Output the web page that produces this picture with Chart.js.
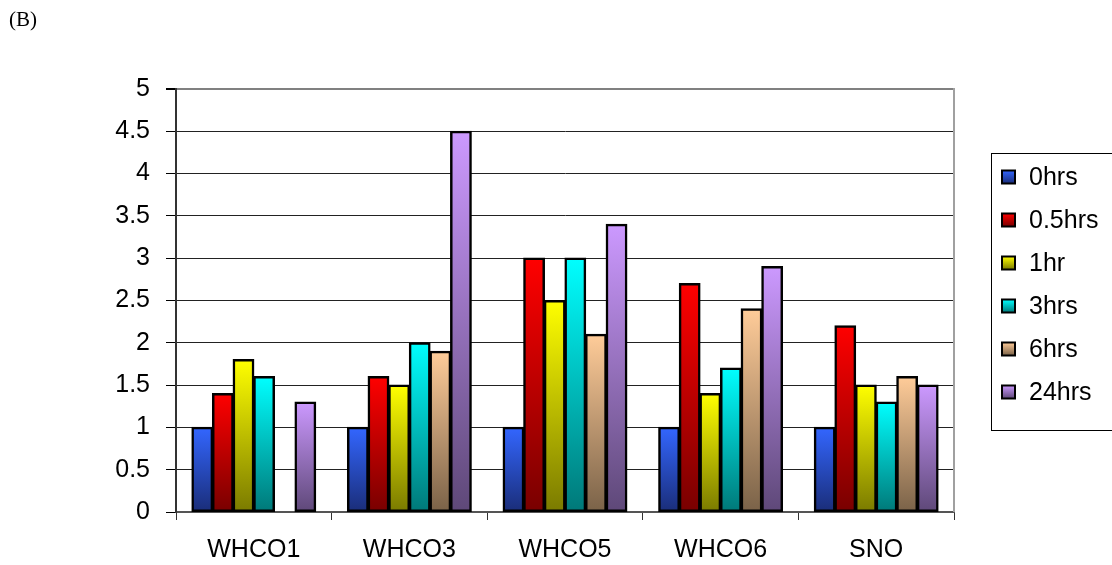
<!DOCTYPE html>
<html>
<head>
  <meta charset="utf-8">
  <title>Grafik (B)</title>
  <script src="https://cdn.jsdelivr.net/npm/chart.js"></script>
  <style>
    * { margin: 0; padding: 0; box-sizing: border-box; }
    html, body { width: 1112px; height: 565px; background: #fff; overflow: hidden; }
    #wrap { position: relative; width: 1112px; height: 565px; }
    #panel {
      position: absolute; left: 9px; top: 7px;
      font-family: "Liberation Serif", serif; font-size: 21px; color: #000;
    }
  </style>
</head>
<body>
  <div id="wrap">
    <div id="panel">(B)</div>
    <canvas id="grafik"></canvas>
  </div>
  <script>
    // === data ===
    const categories = ["WHCO1", "WHCO3", "WHCO5", "WHCO6", "SNO"];
    const seriesNames = ["0hrs", "0.5hrs", "1hr", "3hrs", "6hrs", "24hrs"];
    const hrs0   = [1, 1, 1, 1, 1];
    const hrs05  = [1.4, 1.6, 3.0, 2.7, 2.2];
    const hr1    = [1.8, 1.5, 2.5, 1.4, 1.5];
    const hrs3   = [1.6, 2.0, 3.0, 1.7, 1.3];
    const hrs6   = [null, 1.9, 2.1, 2.4, 1.6];
    const hrs24  = [1.3, 4.5, 3.4, 2.9, 1.5];
    const yTicks = [0, 0.5, 1, 1.5, 2, 2.5, 3, 3.5, 4, 4.5, 5];

    const seriesValues = [hrs0, hrs05, hr1, hrs3, hrs6, hrs24];

    // warna gradasi: atas terang, bawah gelap
    const shades = [
      ["#3366ff", "#1a2d78"],
      ["#ff0000", "#780000"],
      ["#ffff00", "#7a7a00"],
      ["#00ffff", "#007878"],
      ["#ffcc99", "#7a6248"],
      ["#cc99ff", "#5e4878"]
    ];

    const FONT = "'Liberation Sans', Arial, sans-serif";

    function gradasi(top, bottom) {
      return (ctx) => {
        const chart = ctx.chart;
        if (!chart.chartArea || ctx.type !== 'data' || ctx.raw == null) return top;
        const y = chart.scales.y;
        const y0 = y.getPixelForValue(ctx.raw);
        const y1 = y.getPixelForValue(0);
        if (!isFinite(y0) || !isFinite(y1) || y0 === y1) return top;
        const g = chart.ctx.createLinearGradient(0, y0, 0, y1);
        g.addColorStop(0, top);
        g.addColorStop(1, bottom);
        return g;
      };
    }

    // garis kanan area plot
    const bingkai = {
      id: 'bingkai',
      afterDatasetsDraw(chart) {
        const { ctx, chartArea } = chart;
        ctx.save();
        ctx.strokeStyle = '#a0a0a0';
        ctx.lineWidth = 2;
        ctx.beginPath();
        ctx.moveTo(chartArea.right, chartArea.top - 1);
        ctx.lineTo(chartArea.right, chartArea.bottom);
        ctx.stroke();
        ctx.restore();
      }
    };

    // legenda kotak di kanan
    const legenda = {
      id: 'legenda',
      afterDraw(chart) {
        const ctx = chart.ctx;
        const x0 = 991, y0 = 153, w = 140, h = 277;
        ctx.save();
        ctx.strokeStyle = '#000';
        ctx.lineWidth = 1;
        ctx.strokeRect(x0 + 0.5, y0 + 0.5, w, h);
        ctx.font = '25px ' + FONT;
        ctx.textBaseline = 'middle';
        chart.data.datasets.forEach((ds, i) => {
          const cy = 177 + i * 43;
          const s = 13;
          const g = ctx.createLinearGradient(0, cy - s / 2, 0, cy + s / 2);
          g.addColorStop(0, shades[i][0]);
          g.addColorStop(1, shades[i][1]);
          ctx.fillStyle = g;
          ctx.fillRect(1002, cy - s / 2, s, s);
          ctx.lineWidth = 2;
          ctx.strokeStyle = '#000';
          ctx.strokeRect(1002, cy - s / 2, s, s);
          ctx.fillStyle = '#000';
          ctx.fillText(ds.label, 1029, cy + 1);
        });
        ctx.restore();
      }
    };

    const datasets = seriesNames.map((name, i) => ({
      label: name,
      data: seriesValues[i],
      backgroundColor: gradasi(shades[i][0], shades[i][1]),
      borderColor: '#000',
      borderWidth: 2.5,
      borderSkipped: false,
      inflateAmount: 0.6,
      barPercentage: 1.0,
      categoryPercentage: 0.795
    }));

    new Chart(document.getElementById('grafik'), {
      type: 'bar',
      data: { labels: categories, datasets: datasets },
      plugins: [bingkai, legenda],
      options: {
        responsive: true,
        maintainAspectRatio: false,
        animation: false,
        layout: { padding: { left: 0, right: 158, top: 89, bottom: 0 } },
        plugins: {
          legend: { display: false },
          tooltip: { enabled: false }
        },
        scales: {
          x: {
            afterFit(scale) { scale.height = 53; },
            grid: {
              offset: true,
              drawOnChartArea: false,
              drawTicks: true,
              tickLength: 8,
              color: '#333',
              lineWidth: 1
            },
            border: { color: '#555', width: 2 },
            ticks: {
              color: '#000',
              padding: 15,
              font: { family: FONT, size: 25 }
            }
          },
          y: {
            min: 0,
            max: 5,
            afterFit(scale) { scale.width = 176; },
            afterBuildTicks(scale) { scale.ticks = yTicks.map(v => ({ value: v })); },
            grid: {
              color: (c) => c.tick && c.tick.value === 5 ? '#808080' : '#222',
              lineWidth: (c) => c.tick && c.tick.value === 5 ? 2 : 1,
              tickLength: 10,
              tickColor: '#000'
            },
            border: { color: '#333', width: 2 },
            ticks: {
              color: '#000',
              padding: 16,
              font: { family: FONT, size: 25 },
              callback: (v) => String(v)
            }
          }
        }
      }
    });
  </script>
</body>
</html>
